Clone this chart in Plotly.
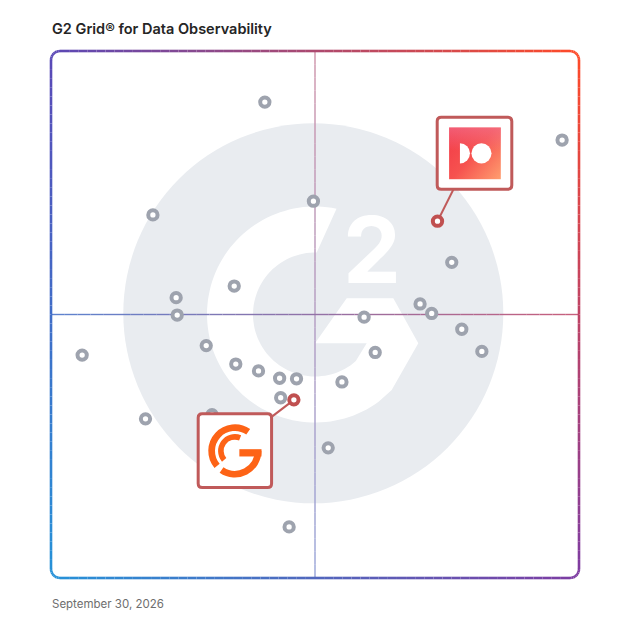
import math
import base64
import plotly.graph_objects as go

# ---------------- data ----------------
title_text = "G2 Grid® for Data Observability"
date_text = "September 30, 2026"

# satisfaction (x) / market presence (y), 0-100 scale
grey_x = [40.5, 96.8, 19.3, 49.7, 75.9, 34.7, 23.7, 23.9, 69.9, 72.1, 59.3, 77.8, 29.4,
          61.4, 81.6, 5.9, 35.0, 39.3, 43.3, 46.5, 55.1, 43.5, 17.9, 30.5, 52.5, 45.1]
grey_y = [90.3, 83.1, 68.9, 71.5, 59.9, 55.4, 53.2, 49.9, 52.0, 50.2, 49.5, 47.2, 44.1,
          42.8, 43.0, 42.3, 40.6, 39.3, 37.9, 37.8, 37.2, 34.2, 30.2, 31.0, 24.7, 9.7]
hl_x = [73.2, 46.0]
hl_y = [67.7, 33.8]
mid_x, mid_y = 50, 50

# ---------------- layout geometry ----------------
OFF = 8  # page body margin
W = H = 628 - OFF
ML, MT = 33, 33
PAD = 10
plot_w = 528 + 2 * PAD
plot_h = 527 + 2 * PAD
MR = W - ML - plot_w
MB = H - MT - plot_h
sx = (plot_w - 2 * PAD) / 100.0
sy = (plot_h - 2 * PAD) / 100.0
x_range = [-PAD / sx, 100 + PAD / sx]
y_range = [-PAD / sy, 100 + PAD / sy]
HW = (plot_w - 2 * PAD) / 2.0
HH = (plot_h - 2 * PAD) / 2.0

TL = (90, 72, 182)
TR = (255, 74, 40)
BL = (38, 146, 216)
BR = (125, 60, 162)


def grad(ox, oy, alpha=1.0):
    u = min(max((ox + HW) / (2 * HW), 0), 1)
    v = min(max((HH - oy) / (2 * HH), 0), 1)
    top = [TL[i] + (TR[i] - TL[i]) * u for i in range(3)]
    bot = [BL[i] + (BR[i] - BL[i]) * u for i in range(3)]
    c = [top[i] + (bot[i] - top[i]) * v for i in range(3)]
    c = [255 + (ci - 255) * alpha for ci in c]
    return "rgb(%d,%d,%d)" % tuple(int(round(ci)) for ci in c)


def pix(ax, ay, **kw):
    d = dict(xref="x", yref="y", xsizemode="pixel", ysizemode="pixel", xanchor=ax, yanchor=ay)
    d.update(kw)
    return d


def rrect(x0, y0, x1, y1, r):
    return (f"M {x0+r},{y0} L {x1-r},{y0} Q {x1},{y0} {x1},{y0+r} L {x1},{y1-r} "
            f"Q {x1},{y1} {x1-r},{y1} L {x0+r},{y1} Q {x0},{y1} {x0},{y1-r} "
            f"L {x0},{y0+r} Q {x0},{y0} {x0+r},{y0} Z")


shapes = []

# watermark circle
shapes.append(pix(mid_x, mid_y, type="circle", x0=-191.7, x1=188.3, y0=-188.8, y1=191.2,
                  fillcolor="#e9ecf0", line=dict(width=0), layer="below"))

# white G of the watermark (ring + chevron)
def arc(r, a0, a1, n):
    return [(r * math.cos(math.radians(a0 + (a1 - a0) * k / n)),
             r * math.sin(math.radians(a0 + (a1 - a0) * k / n))) for k in range(n + 1)]

pts = arc(108, 78.5, 306.1, 90)
pts += [(76.7, -75.5), (103.3, -28.8), (78.3, 16.2), (31.7, 16.2), (0, -28.8),
        (51.7, -28.8)]
pts += arc(62, 311.2, 88.4, 70)
gpath = "M " + " L ".join(f"{x:.1f},{y:.1f}" for x, y in pts) + " Z"
shapes.append(pix(mid_x, mid_y, type="path", path=gpath, fillcolor="white",
                  line=dict(width=0), layer="below"))

# quadrant lines (gradient segments)
n = 40
for k in range(n):
    y0 = -HH + 2 * HH * k / n
    y1 = -HH + 2 * HH * (k + 1) / n
    shapes.append(pix(mid_x, mid_y, type="line", x0=0, x1=0, y0=y0, y1=y1,
                      line=dict(color=grad(0, (y0 + y1) / 2, 0.6), width=1.4), layer="below"))
for k in range(n):
    x0 = -HW + 2 * HW * k / n
    x1 = -HW + 2 * HW * (k + 1) / n
    shapes.append(pix(mid_x, mid_y, type="line", x0=x0, x1=x1, y0=0, y1=0,
                      line=dict(color=grad((x0 + x1) / 2, 0, 0.85), width=1.4), layer="below"))

# gradient frame with rounded corners
R = 9
perim = []
def straight(p, q, step=9):
    m = max(1, int(math.hypot(q[0] - p[0], q[1] - p[1]) / step))
    return [(p[0] + (q[0] - p[0]) * i / m, p[1] + (q[1] - p[1]) * i / m) for i in range(m)]
def corner(cx, cy, a0, a1, m=8):
    return [(cx + R * math.cos(math.radians(a0 + (a1 - a0) * i / m)),
             cy + R * math.sin(math.radians(a0 + (a1 - a0) * i / m))) for i in range(m)]
perim += straight((-HW + R, HH), (HW - R, HH))
perim += corner(HW - R, HH - R, 90, 0)
perim += straight((HW, HH - R), (HW, -HH + R))
perim += corner(HW - R, -HH + R, 0, -90)
perim += straight((HW - R, -HH), (-HW + R, -HH))
perim += corner(-HW + R, -HH + R, -90, -180)
perim += straight((-HW, -HH + R), (-HW, HH - R))
perim += corner(-HW + R, HH - R, 180, 90)
perim.append(perim[0])
for i in range(len(perim) - 1):
    (a, b), (c, d) = perim[i], perim[i + 1]
    shapes.append(pix(mid_x, mid_y, type="line", x0=a, y0=b, x1=c, y1=d,
                      line=dict(color=grad((a + c) / 2, (b + d) / 2), width=2.6), layer="below"))

RED = "#c05a5a"
# connectors
shapes.append(pix(hl_x[0], hl_y[0], type="line", x0=0, y0=0, x1=16, y1=32,
                  line=dict(color=RED, width=2), layer="below"))
shapes.append(pix(hl_x[1], hl_y[1], type="line", x0=0, y0=0, x1=-22.3, y1=-17,
                  line=dict(color=RED, width=2), layer="below"))

# logo box geometry (pixel offsets from the highlighted point; y up)
BOX_DO = (-0.3, 32, 74.3, 104)
BOX_G = (-95.7, -87.7, -22.3, -14)
shapes.append(pix(hl_x[0], hl_y[0], type="path", path=rrect(*BOX_DO, 4),
                  fillcolor="rgba(0,0,0,0)", line=dict(color=RED, width=3), layer="above"))
shapes.append(pix(hl_x[1], hl_y[1], type="path", path=rrect(*BOX_G, 4),
                  fillcolor="rgba(0,0,0,0)", line=dict(color=RED, width=3), layer="above"))

# ---------------- logo images (inline svg, white box background included) ----------------
bw0, bh0 = BOX_DO[2] - BOX_DO[0], BOX_DO[3] - BOX_DO[1]
svg_do = (f'<svg xmlns="http://www.w3.org/2000/svg" viewBox="0 0 {bw0:.1f} {bh0:.1f}" '
          f'width="{bw0:.1f}" height="{bh0:.1f}" preserveAspectRatio="none">'
          '<defs><linearGradient id="a" x1="0" y1="0.15" x2="1" y2="1">'
          '<stop offset="0" stop-color="#f33c48"/><stop offset="0.45" stop-color="#f6524f"/>'
          '<stop offset="1" stop-color="#ff9e6f"/></linearGradient>'
          '<linearGradient id="b" x1="0" y1="0" x2="0" y2="1">'
          '<stop offset="0" stop-color="#f27a9a" stop-opacity="0.55"/>'
          '<stop offset="0.45" stop-color="#f27a9a" stop-opacity="0"/></linearGradient></defs>'
          f'<rect x="1" y="1" width="{bw0-2:.1f}" height="{bh0-2:.1f}" rx="3" fill="#fff"/>'
          '<g transform="translate(11.9 10.3) scale(0.517)">'
          '<rect width="100" height="100" fill="url(#a)"/><rect width="100" height="100" fill="url(#b)"/>'
          '<path d="M21 30.6 A19.4 19.4 0 0 1 21 69.4 Z" fill="#fff"/>'
          '<circle cx="62.6" cy="50" r="19.4" fill="#fff"/></g></svg>')


def sp(r, a):
    return 50 + r * math.cos(math.radians(a)), 50 - r * math.sin(math.radians(a))


def svg_arc(r, a0, a1):
    x0, y0 = sp(r, a0)
    x1, y1 = sp(r, a1)
    large = 1 if abs(a1 - a0) > 180 else 0
    return f"M{x0:.2f} {y0:.2f} A{r} {r} 0 {large} 0 {x1:.2f} {y1:.2f}"


OR = "#fd6316"
bw1, bh1 = BOX_G[2] - BOX_G[0], BOX_G[3] - BOX_G[1]
svg_g = (f'<svg xmlns="http://www.w3.org/2000/svg" viewBox="0 0 {bw1:.1f} {bh1:.1f}" '
         f'width="{bw1:.1f}" height="{bh1:.1f}" preserveAspectRatio="none">'
         f'<rect x="1" y="1" width="{bw1-2:.1f}" height="{bh1-2:.1f}" rx="3" fill="#fff"/>'
         '<g transform="translate(8.7 9) scale(0.56)">'
         f'<path d="{svg_arc(41.5, 55, 220)}" stroke="{OR}" stroke-width="12" fill="none"/>'
         f'<path d="{svg_arc(41.5, 235, 360)}" stroke="{OR}" stroke-width="12" fill="none"/>'
         f'<path d="{svg_arc(25, 68, 220)}" stroke="{OR}" stroke-width="10" fill="none"/>'
         f'<rect x="58" y="47" width="39.5" height="13" fill="{OR}"/></g></svg>')


def uri(s):
    return "data:image/svg+xml;base64," + base64.b64encode(s.encode()).decode()


images = [
    dict(source=uri(svg_do), xref="x", yref="y", x=hl_x[0] + BOX_DO[0] / sx,
         y=hl_y[0] + BOX_DO[3] / sy, sizex=bw0 / sx, sizey=bh0 / sy, xanchor="left",
         yanchor="top", sizing="stretch", layer="above"),
    dict(source=uri(svg_g), xref="x", yref="y", x=hl_x[1] + BOX_G[0] / sx,
         y=hl_y[1] + BOX_G[3] / sy, sizex=bw1 / sx, sizey=bh1 / sy, xanchor="left",
         yanchor="top", sizing="stretch", layer="above"),
]

# ---------------- figure ----------------
fig = go.Figure()
fig.add_trace(go.Scatter(x=grey_x, y=grey_y, mode="markers", hoverinfo="skip",
                         marker=dict(size=9.3, color="white",
                                     line=dict(color="#9ea3ae", width=4))))
fig.add_trace(go.Scatter(x=hl_x, y=hl_y, mode="markers", hoverinfo="skip",
                         marker=dict(size=9.3, color="white",
                                     line=dict(color="#c05050", width=4))))

annotations = [
    dict(text=title_text, xref="paper", yref="paper", x=(50 - OFF - ML) / plot_w,
         y=(H - MB - (29 - OFF)) / plot_h, xanchor="left", yanchor="middle", showarrow=False,
         font=dict(family="Inter", size=14.5, color="#252525", weight=600)),
    dict(text=date_text, xref="paper", yref="paper", x=(50 - OFF - ML) / plot_w,
         y=(H - MB - (604 - OFF)) / plot_h, xanchor="left", yanchor="middle", showarrow=False,
         font=dict(family="Inter", size=11.5, color="#6e6e6e")),
    dict(text="2", xref="x", yref="y", x=60.7, y=62.4, xanchor="center", yanchor="middle",
         showarrow=False, font=dict(family="Inter", size=92, color="white", weight=700)),
]

fig.update_layout(
    width=W, height=H,
    margin=dict(l=ML, r=MR, t=MT, b=MB, pad=0),
    paper_bgcolor="white", plot_bgcolor="white",
    showlegend=False,
    xaxis=dict(range=x_range, visible=False, fixedrange=True),
    yaxis=dict(range=y_range, visible=False, fixedrange=True),
    shapes=shapes, images=images, annotations=annotations,
)

fig.write_html("out.html")
